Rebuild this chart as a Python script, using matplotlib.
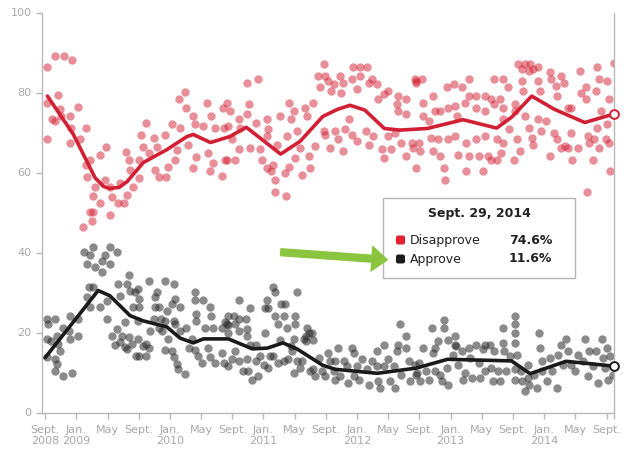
import matplotlib
matplotlib.use("Agg")
import matplotlib.pyplot as plt
from matplotlib.patches import FancyBboxPatch, FancyArrowPatch

# x values are months since Sept. 1, 2008
dis_pts = [
(0.3,86.3),(1.3,89.2),(2.4,89.2),(3.4,88.2),(0.2,68.3),(0.3,77.5),(1.7,79.3),(0.9,73.3),(1.3,72.9),(1.9,75.8),(2.1,74.1),(3.2,74.1),(3.3,71.2),(4.2,76.3),(4.5,68.3),(3.2,67.5),(5.3,71.2),(5.8,63.2),(5.2,62.0),(5.4,59.0),(6.4,56.4),(7.1,64.3),(7.8,66.3),(7.7,58.2),(8.3,56.5),(6.1,54.2),(6.2,50.2),(5.8,50.2),(7.1,52.3),(8.3,49.4),(8.6,54.0),(9.4,52.3),(10.1,52.3),(10.5,54.4),(9.6,57.3),(10.4,65.2),(10.7,63.2),(10.9,60.7),(11.3,56.5),(12.1,63.2),(12.1,58.6),(12.3,69.3),(13.0,72.3),(12.6,66.3),(13.3,65.0),(13.9,68.7),(14.1,60.7),(14.3,66.3),(14.6,59.0),(15.4,69.5),(15.5,59.0),(15.8,61.5),(16.3,72.1),(16.7,63.2),(16.9,65.7),(17.2,78.3),(17.3,71.2),(17.9,80.2),(18.1,76.2),(18.3,66.9),(19.0,74.1),(19.2,72.1),(19.4,64.0),(19.0,61.2),(20.3,71.6),(20.7,77.5),(20.9,65.0),(21.3,74.1),(21.8,71.2),(21.5,62.4),(22.7,59.1),(22.8,76.2),(22.9,71.2),(23.1,63.2),(21.2,60.3),(4.8,46.4),(6.0,47.9),
(25.9,82.3),(27.3,83.4),(23.3,77.5),(23.7,75.4),(24.8,73.3),(23.5,71.6),(25.0,71.2),(26.1,77.1),(25.9,74.6),(27.1,72.5),(24.0,68.3),(24.8,65.8),(26.3,66.2),(23.3,63.2),(24.4,63.2),(27.5,65.8),(27.8,63.2),(28.4,73.3),(28.6,70.8),(28.4,69.1),(28.4,61.1),(29.2,61.9),(29.0,60.3),(29.5,58.2),(29.5,55.2),(30.9,54.1),(29.7,66.9),(30.1,74.1),(31.3,77.5),(31.5,73.3),(31.9,75.4),(31.0,69.1),(31.3,61.5),(32.1,63.7),(32.3,70.4),(30.8,59.9),(32.7,66.2),(32.9,59.4),(33.3,76.2),(33.6,74.1),(33.8,64.1),(34.0,61.1),(34.4,77.5),(34.6,66.6),(35.0,84.2),(35.3,81.3),(35.7,87.2),(35.9,84.2),(36.3,82.9),(36.7,80.4),(37.0,82.1),(35.7,70.4),(35.9,69.5),(36.5,66.2),(37.2,70.4),(37.8,84.2),(38.2,82.5),(38.0,80.0),(38.4,70.8),(37.6,68.3),(38.2,65.3),(39.0,73.3),(39.3,83.4),(39.5,86.3),(40.0,80.8),(40.4,84.2),(40.4,86.3),(41.3,86.3),(41.5,82.5),(41.9,83.4),(42.5,82.1),(39.3,69.5),(40.0,67.9),(41.1,70.4),(41.5,67.0),(42.1,69.1),(42.7,78.3),(43.4,79.6),(44.0,80.4),(43.2,65.8),(43.4,63.7),(44.0,69.1),(44.4,65.8),(45.1,77.1),(45.3,79.1),(45.3,75.4),(46.3,74.6),(46.3,78.3),(45.7,67.4),(46.3,64.1),(44.9,69.9),(47.4,83.4),(47.6,82.5),(47.2,66.2),(47.6,61.1),(47.0,67.4),
(47.6,82.9),(48.3,83.4),(48.5,77.5),(48.5,74.1),(49.2,72.9),(49.8,79.2),(50.0,75.4),(50.7,75.4),(50.4,68.3),(49.5,68.7),(47.9,67.4),(48.1,65.3),(49.8,65.3),(50.7,64.1),(51.1,61.1),(51.3,58.2),(51.7,76.2),(51.5,81.3),(51.7,68.3),(52.4,82.1),(52.6,76.6),(52.8,74.1),(52.6,69.1),(53.0,64.5),(53.4,81.3),(53.8,77.5),(54.3,83.4),(54.3,79.2),(54.0,67.4),(54.3,64.1),(54.0,60.3),(55.2,79.2),(55.3,76.2),(55.2,68.3),(55.7,64.1),(56.2,60.3),(56.4,79.2),(56.4,75.4),(56.4,69.1),(56.8,64.1),(57.2,63.2),(57.5,83.4),(57.2,78.3),(57.6,77.1),(57.9,68.3),(57.9,63.2),(58.3,78.3),(58.5,64.9),(58.7,83.4),(58.7,76.2),(58.7,73.3),(58.7,67.4),(59.3,81.3),(59.5,70.8),(60.1,63.2),(60.3,77.1),(60.3,75.4),(60.5,68.3),(60.7,87.2),(61.1,86.0),(61.6,87.2),(62.0,85.5),(62.2,87.2),(62.6,86.0),(63.2,86.4),(61.1,82.9),(61.3,80.4),(60.9,65.3),(61.6,74.1),(62.0,71.2),(62.4,68.7),(62.6,67.0),(63.2,73.3),(63.2,82.9),(63.4,80.4),(63.6,70.4),(64.2,72.9),(64.7,64.1),(64.7,85.1),(64.9,83.4),(65.5,81.7),(65.7,79.2),(66.1,84.2),(66.6,82.5),(67.0,76.2),(67.4,76.2),(65.2,70.0),(65.7,68.3),(66.1,66.2),(66.7,66.6),(67.1,66.2),(67.6,63.2),(68.3,66.2),(67.4,70.0),(68.7,80.0),(68.6,85.4),(69.4,81.3),(69.4,78.3),(69.6,69.1),(69.8,67.4),(70.6,80.4),(70.8,86.3),(71.0,83.4),(70.8,71.2),(70.4,68.3),(71.0,66.2),(71.3,75.4),(71.9,68.3),(72.1,82.9),(72.3,78.3),(72.3,67.4),(72.5,60.3),(69.5,55.2),(70.3,63.2),(72.9,87.4),(72.1,72.1),
]

app_pts = [
(5.0,40.1),(6.1,41.4),(5.8,39.3),(5.4,37.2),(6.4,36.3),(7.3,38.0),(7.3,35.1),(7.7,39.3),(8.3,41.4),(8.3,37.2),(9.2,40.1),(5.6,31.3),(6.1,31.3),(5.4,28.8),(5.8,26.3),(7.1,26.3),(7.9,23.4),(7.9,27.9),(0.2,23.4),(1.3,23.4),(0.4,22.1),(2.3,21.2),(3.2,24.2),(4.2,23.4),(0.2,18.4),(0.8,18.0),(1.5,19.2),(1.7,17.1),(1.9,15.4),(3.0,20.4),(3.2,18.4),(4.2,19.2),(0.2,13.8),(1.3,13.3),(1.5,12.1),(1.3,10.4),(2.3,9.1),(3.4,9.9),(8.6,19.2),(9.2,20.8),(9.0,16.8),(9.6,17.6),(10.2,16.3),(9.8,19.2),(10.7,18.8),(10.5,16.0),(11.1,17.2),(11.9,18.4),(9.4,32.2),(9.6,29.2),(10.5,32.2),(10.7,34.3),(10.9,30.5),(11.5,30.1),(11.9,31.0),(10.2,22.6),(11.3,26.3),(12.1,28.4),(12.1,26.3),(11.9,22.9),(11.7,14.1),(12.1,14.1),(13.0,14.1),(13.3,33.0),(12.6,16.6),(13.0,17.1),(13.3,16.1),(14.1,26.3),(14.3,30.1),(14.1,28.8),(14.6,26.3),(13.9,23.4),(14.8,23.4),(14.6,21.2),(13.5,20.4),(15.0,20.4),(15.4,33.0),(15.6,25.4),(15.4,22.9),(15.4,15.7),(15.8,18.4),(16.3,27.1),(16.5,32.2),(16.7,28.4),(16.5,22.9),(16.7,22.1),(16.5,13.8),(16.3,15.4),(16.9,12.1),(17.3,26.3),(17.3,20.4),(17.1,10.8),(17.9,9.6),(18.1,21.2),(18.4,16.1),(18.8,18.4),(19.2,30.1),(19.2,28.1),(19.4,24.6),(19.4,22.9),(19.2,15.7),(19.6,14.1),(20.1,12.4),(20.3,28.1),(20.5,21.2),(21.1,26.3),(21.3,24.2),(21.5,21.2),(20.9,16.1),(21.1,13.8),(21.8,12.4),(22.7,21.2),(22.7,15.0),(22.9,12.4),(23.1,22.6),(23.4,24.2),(23.4,20.0),
(29.2,31.3),(29.5,30.1),(32.3,30.1),(24.8,28.1),(28.4,28.1),(30.2,27.1),(30.8,27.1),(26.3,26.1),(28.2,26.1),(28.6,26.1),(29.5,24.2),(30.6,24.2),(32.1,24.2),(24.2,24.2),(24.8,23.3),(25.7,23.3),(23.3,22.1),(23.5,21.9),(24.4,22.1),(24.8,20.4),(25.9,20.8),(25.9,19.2),(29.9,22.1),(31.0,21.2),(32.1,22.1),(28.2,20.0),(33.6,21.2),(33.8,20.0),(33.4,19.2),(33.2,18.4),(34.2,20.0),(26.3,17.0),(27.1,17.0),(30.1,18.1),(31.5,16.6),(31.9,18.4),(33.4,17.9),(34.4,18.1),(24.4,15.4),(24.0,13.3),(23.5,11.6),(24.8,12.8),(25.9,13.3),(27.1,12.8),(27.5,14.1),(28.1,12.0),(28.6,11.2),(28.8,14.1),(29.2,14.1),(29.9,12.4),(30.6,12.8),(31.2,13.3),(31.7,15.4),(32.3,12.8),(32.9,12.8),(31.9,9.9),(32.7,11.2),(25.4,10.3),(26.0,10.3),(26.5,8.2),(27.3,9.1),(34.0,10.3),(34.4,10.8),(34.6,9.1),(35.1,13.7),(35.5,10.3),(35.9,9.1),(36.3,14.9),(36.5,12.8),(37.2,12.8),(37.6,16.2),(37.0,10.3),(37.2,8.2),(37.8,9.1),(38.3,12.8),(38.7,11.6),(38.9,7.4),(39.4,16.2),(39.6,14.9),(39.6,9.1),(40.0,11.6),(40.2,8.2),(40.6,13.3),(41.3,10.8),(41.5,7.0),(41.9,12.8),(42.5,15.4),(42.5,11.6),(42.7,7.8),(42.9,6.1),(43.4,17.0),(43.4,11.6),(44.0,13.3),(44.2,7.8),(44.7,11.6),(44.9,6.1),(45.1,15.4),(45.3,17.0),(45.5,22.1),(45.7,9.5),(46.3,19.2),(46.3,16.2),(46.6,12.8),(46.8,7.8),(47.4,12.0),(47.6,9.5),
(49.6,21.2),(51.1,23.1),(51.1,21.2),(51.7,18.1),(52.5,19.2),(50.4,17.9),(50.0,16.2),(49.8,14.9),(48.5,16.2),(47.9,12.4),(47.7,9.9),(48.8,10.3),(49.2,8.2),(48.1,7.8),(50.0,10.3),(50.7,9.5),(50.9,7.8),(51.5,11.2),(51.7,6.9),(52.3,14.5),(52.5,17.0),(52.7,16.6),(53.0,11.9),(53.4,15.4),(53.8,9.9),(53.6,8.2),(54.3,16.2),(54.5,13.7),(54.7,8.6),(55.3,17.0),(55.6,12.4),(55.8,8.6),(56.2,15.8),(56.4,10.3),(56.4,17.0),(57.0,17.0),(57.2,11.2),(57.4,7.8),(57.6,15.4),(58.1,10.3),(58.3,7.8),(58.7,21.2),(58.7,17.5),(58.9,15.4),(59.1,10.3),(59.6,14.1),(60.3,24.2),(60.3,22.1),(60.3,20.0),(60.3,17.5),(60.5,14.5),(60.3,10.8),(60.3,8.2),(61.0,10.3),(61.2,7.8),(61.5,5.3),(61.9,11.9),(61.9,8.6),(62.1,6.9),(62.7,9.5),(63.1,6.1),(63.3,20.0),(63.5,16.2),(63.7,12.8),(63.7,10.3),(64.3,7.8),(64.8,13.7),(65.0,10.3),(65.6,6.1),(65.8,14.5),(66.2,17.0),(66.4,11.9),(66.8,18.3),(67.1,15.4),(67.5,11.9),(67.9,10.3),(68.3,14.5),(69.0,12.8),(69.2,18.3),(69.6,9.1),(69.8,15.4),(70.3,11.6),(70.7,15.4),(70.9,7.4),(71.4,18.3),(71.6,13.7),(71.8,11.2),(72.0,16.2),(72.2,8.2),(72.4,14.1),(72.8,9.5),
]

dis_trend_x = [0.3, 3.6, 6.4, 7.5, 8.3, 9.5, 10.5, 12.6, 15.6, 18.2, 19.0, 21.2, 23.7, 25.8, 28.5, 30.2, 32.7, 35.6, 37.5, 39.1, 41.0, 43.5, 45.5, 49.0, 53.6, 57.9, 59.8, 62.4, 65.3, 69.2, 72.9]
dis_trend_y = [79.1, 69.6, 58.7, 56.5, 56.0, 56.3, 57.7, 62.5, 65.7, 69.0, 69.5, 67.5, 69.0, 71.3, 67.2, 64.6, 67.8, 74.0, 75.8, 76.8, 75.6, 71.0, 70.6, 71.0, 73.2, 71.1, 73.8, 79.1, 75.8, 72.5, 74.6]
app_trend_x = [0.0, 6.8, 8.3, 10.9, 12.6, 15.6, 17.3, 19.0, 20.3, 23.5, 26.6, 28.5, 30.5, 32.3, 35.6, 37.2, 42.6, 47.6, 51.6, 59.8, 62.2, 66.8, 72.9]
app_trend_y = [13.7, 30.5, 29.2, 24.2, 22.9, 21.4, 18.6, 17.4, 18.4, 18.4, 15.9, 16.1, 17.4, 15.9, 11.8, 10.8, 9.8, 11.1, 13.3, 12.9, 9.7, 12.8, 11.6]

tick_months = list(range(0, 73, 4))
tick_labels = ["Sept.\n2008", "Jan.\n2009", "May", "Sept.", "Jan.\n2010", "May", "Sept.",
               "Jan.\n2011", "May", "Sept.", "Jan.\n2012", "May", "Sept.", "Jan.\n2013",
               "May", "Sept.", "Jan.\n2014", "May", "Sept."]
y_ticks = [0, 20, 40, 60, 80, 100]

legend_title = "Sept. 29, 2014"
series_names = ["Disapprove", "Approve"]
latest_values = [74.6, 11.6]

RED = "#d21f33"
DARK = "#1a1a1a"
GRAY = "#b8b8b8"

fig = plt.figure(figsize=(6.29, 4.53), dpi=100)
ax = fig.add_axes([42/629, 1 - 412.5/453, 572/629, 400/453])

ax.scatter([p[0] for p in dis_pts], [p[1] for p in dis_pts], s=36, color=RED,
           alpha=0.5, linewidths=0, zorder=2)
ax.scatter([p[0] for p in app_pts], [p[1] for p in app_pts], s=36, color="#2a2a2a",
           alpha=0.55, linewidths=0, zorder=2)

ax.plot(dis_trend_x, dis_trend_y, color=RED, lw=2.6, solid_joinstyle="round",
        solid_capstyle="round", zorder=3)
ax.plot(app_trend_x, app_trend_y, color=DARK, lw=2.6, solid_joinstyle="round",
        solid_capstyle="round", zorder=3)

ax.scatter([dis_trend_x[-1]], [latest_values[0]], s=40, facecolor="white",
           edgecolor=RED, linewidths=1.4, zorder=5, clip_on=False)
ax.scatter([app_trend_x[-1]], [latest_values[1]], s=40, facecolor="white",
           edgecolor=DARK, linewidths=1.4, zorder=5, clip_on=False)

ax.set_xlim(-0.4, 72.95)
ax.set_ylim(0, 100)
ax.set_xticks(tick_months + [72.9])
ax.set_xticklabels(tick_labels + [""])
ax.set_yticks(y_ticks)
ax.tick_params(axis="both", colors=GRAY, labelcolor="#a8a8a8", length=4, width=1,
               labelsize=8)
ax.tick_params(axis="x", pad=5)
for lab in ax.get_xticklabels():
    lab.set_linespacing(1.1)
ax.spines["top"].set_visible(False)
for s in ["left", "bottom", "right"]:
    ax.spines[s].set_color(GRAY)
    ax.spines[s].set_linewidth(1)

# legend box
fig.patches.append(FancyBboxPatch((383/629, 1 - 278/453), 192/629, 80/453,
                                  boxstyle="square,pad=0", transform=fig.transFigure,
                                  facecolor="white", edgecolor="#b5b5b5", lw=1, zorder=10))
fig.text(479/629, 1 - 214/453, legend_title, ha="center", va="center",
         fontsize=9, fontweight="bold", color="#222222", zorder=11)
row_y = [240, 259]
row_colors = ["#e3202e", "#1c1c1c"]
for yy, nm, val, col in zip(row_y, series_names, latest_values, row_colors):
    fig.patches.append(FancyBboxPatch((396 / 629, 1 - (yy + 4.5) / 453), 9/629, 9/453,
                                      boxstyle="round,pad=0,rounding_size=0.004",
                                      transform=fig.transFigure, facecolor=col,
                                      edgecolor="none", zorder=11))
    fig.text(410/629, 1 - yy/453, nm, ha="left", va="center", fontsize=9,
             color="#222222", zorder=11)
    fig.text(552/629, 1 - yy/453, f"{val}%", ha="right", va="center", fontsize=9,
             fontweight="bold", color="#222222", zorder=11)

# green pointer arrow
fig.patches.append(FancyArrowPatch(
    (278/629, 1 - 252/453), (390/629, 1 - 260/453), transform=fig.transFigure,
    arrowstyle="simple,head_length=1.0,head_width=1.6,tail_width=0.45",
    mutation_scale=11, color="#8bc53f", zorder=12))

fig.savefig("out.png", dpi=100)
